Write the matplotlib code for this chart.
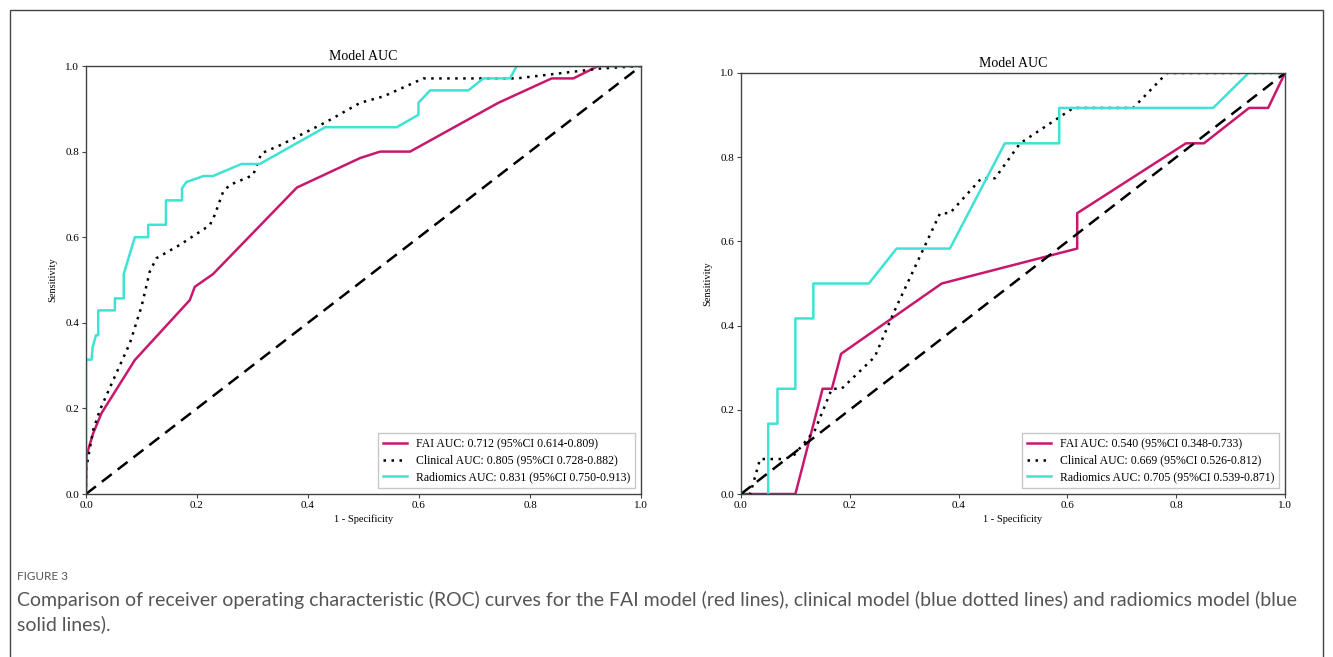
import matplotlib.pyplot as plt
from matplotlib.patches import Rectangle

# ROC points (fpr, tpr)
# left panel
fai_l_fpr = [0.0, 0.001, 0.013, 0.028, 0.088, 0.187, 0.196, 0.229, 0.38, 0.494, 0.53, 0.584, 0.743, 0.839, 0.878, 0.923, 1.0]
fai_l_tpr = [0.0, 0.091, 0.142, 0.189, 0.313, 0.453, 0.484, 0.514, 0.716, 0.785, 0.8, 0.8, 0.914, 0.971, 0.971, 1.0, 1.0]
cli_l_fpr = [0.0, 0.0, 0.013, 0.025, 0.049, 0.079, 0.1, 0.115, 0.127, 0.169, 0.223, 0.232, 0.247, 0.259, 0.301, 0.316, 0.35, 0.434, 0.494, 0.536, 0.608, 0.776, 0.926, 1.0]
cli_l_tpr = [0.0, 0.057, 0.15, 0.196, 0.266, 0.352, 0.438, 0.52, 0.551, 0.582, 0.628, 0.652, 0.706, 0.722, 0.745, 0.796, 0.815, 0.87, 0.914, 0.929, 0.971, 0.971, 0.994, 1.0]
rad_l_fpr = [0.0, 0.0, 0.01, 0.012, 0.018, 0.022, 0.022, 0.052, 0.052, 0.068, 0.068, 0.088, 0.112, 0.112, 0.144, 0.144, 0.173, 0.173, 0.181, 0.212, 0.229, 0.28, 0.313, 0.431, 0.56, 0.599, 0.599, 0.62, 0.689, 0.716, 0.764, 0.776, 1.0]
rad_l_tpr = [0.0, 0.314, 0.314, 0.343, 0.371, 0.371, 0.429, 0.429, 0.457, 0.457, 0.514, 0.6, 0.6, 0.629, 0.629, 0.686, 0.686, 0.714, 0.729, 0.743, 0.743, 0.771, 0.771, 0.857, 0.857, 0.886, 0.914, 0.943, 0.943, 0.971, 0.971, 1.0, 1.0]

# right panel
fai_r_fpr = [0.0, 0.1, 0.15, 0.167, 0.184, 0.369, 0.618, 0.618, 0.818, 0.851, 0.934, 0.969, 1.0]
fai_r_tpr = [0.0, 0.0, 0.25, 0.25, 0.333, 0.5, 0.583, 0.667, 0.833, 0.833, 0.917, 0.917, 1.0]
cli_r_fpr = [0.0, 0.017, 0.035, 0.078, 0.096, 0.136, 0.167, 0.185, 0.246, 0.28, 0.366, 0.384, 0.442, 0.467, 0.513, 0.611, 0.721, 0.783, 1.0]
cli_r_tpr = [0.0, 0.0, 0.083, 0.083, 0.09, 0.152, 0.25, 0.25, 0.326, 0.429, 0.667, 0.667, 0.75, 0.75, 0.833, 0.917, 0.917, 1.0, 1.0]
rad_r_fpr = [0.05, 0.05, 0.067, 0.067, 0.1, 0.1, 0.133, 0.133, 0.235, 0.286, 0.384, 0.485, 0.585, 0.585, 0.868, 0.933, 1.0]
rad_r_tpr = [0.0, 0.167, 0.167, 0.25, 0.25, 0.417, 0.417, 0.5, 0.5, 0.583, 0.583, 0.833, 0.833, 0.917, 0.917, 1.0, 1.0]

left_labels = ["FAI AUC: 0.712 (95%CI 0.614-0.809)",
               "Clinical AUC: 0.805 (95%CI 0.728-0.882)",
               "Radiomics AUC: 0.831 (95%CI 0.750-0.913)"]
right_labels = ["FAI AUC: 0.540 (95%CI 0.348-0.733)",
                "Clinical AUC: 0.669 (95%CI 0.526-0.812)",
                "Radiomics AUC: 0.705 (95%CI 0.539-0.871)"]
ticks = [0.0, 0.2, 0.4, 0.6, 0.8, 1.0]

caption_head = "FIGURE 3"
caption = ("Comparison of receiver operating characteristic (ROC) curves for the FAI model (red lines), "
           "clinical model (blue dotted lines) and radiomics model (blue\nsolid lines).")

red = "#c8186e"
cyan = "#3fe3d3"
serif = ["Liberation Serif", "DejaVu Serif"]

W, H = 1333, 657
fig = plt.figure(figsize=(W / 100, H / 100), dpi=100)

# outer frame of the screenshot
fig.patches.append(Rectangle((10 / W, -0.05), 1313 / W, 1.05 - 10 / H, transform=fig.transFigure,
                             fill=False, edgecolor="#444444", linewidth=1.0))


def roc_panel(rect, curves, labels):
    ax = fig.add_axes(rect)
    (f1, t1), (f2, t2), (f3, t3) = curves
    ax.plot(f1, t1, color=red, lw=1.8, label=labels[0])
    ax.plot(f2, t2, color="black", lw=1.8, linestyle=(0, (1, 2.2)), label=labels[1])
    ax.plot(f3, t3, color=cyan, lw=1.8, label=labels[2])
    ax.plot([0, 1], [0, 1], color="black", lw=1.8, linestyle=(0, (5, 3)))
    ax.set_xlim(0, 1)
    ax.set_ylim(0, 1)
    ax.set_xticks(ticks)
    ax.set_yticks(ticks)
    ax.set_xticklabels([f"{t:.1f}" for t in ticks], family=serif, fontsize=8)
    ax.set_yticklabels([f"{t:.1f}" for t in ticks], family=serif, fontsize=8)
    ax.tick_params(length=3, width=0.8, color="#444444", pad=2)
    for s in ax.spines.values():
        s.set_color("#444444")
        s.set_linewidth(1.0)
    ax.set_title("Model AUC", family=serif, fontsize=10, pad=4)
    ax.set_xlabel("1 - Specificity", family=serif, fontsize=7.5, labelpad=3)
    ax.set_ylabel("Sensitivity", family=serif, fontsize=7.5, labelpad=6)
    ax.legend(loc="lower right", prop={"family": serif, "size": 8.5}, frameon=True,
              fancybox=False, edgecolor="#bbbbbb", handlelength=2.0, borderaxespad=0.5,
              labelspacing=0.4)
    return ax


roc_panel([86 / W, 1 - 494 / H, 555 / W, 428 / H],
          [(fai_l_fpr, fai_l_tpr), (cli_l_fpr, cli_l_tpr), (rad_l_fpr, rad_l_tpr)], left_labels)
roc_panel([741 / W, 1 - 494 / H, 544 / W, 421 / H],
          [(fai_r_fpr, fai_r_tpr), (cli_r_fpr, cli_r_tpr), (rad_r_fpr, rad_r_tpr)], right_labels)

fig.text(17 / W, 1 - 577 / H, caption_head, family=["Lato", "DejaVu Sans"], fontsize=8.5,
         color="#555555", va="center")
fig.text(17 / W, 1 - 612 / H, caption, family=["Lato", "DejaVu Sans"], fontsize=14,
         color="#555555", va="center", linespacing=1.4)

fig.savefig("out.png", dpi=100)
